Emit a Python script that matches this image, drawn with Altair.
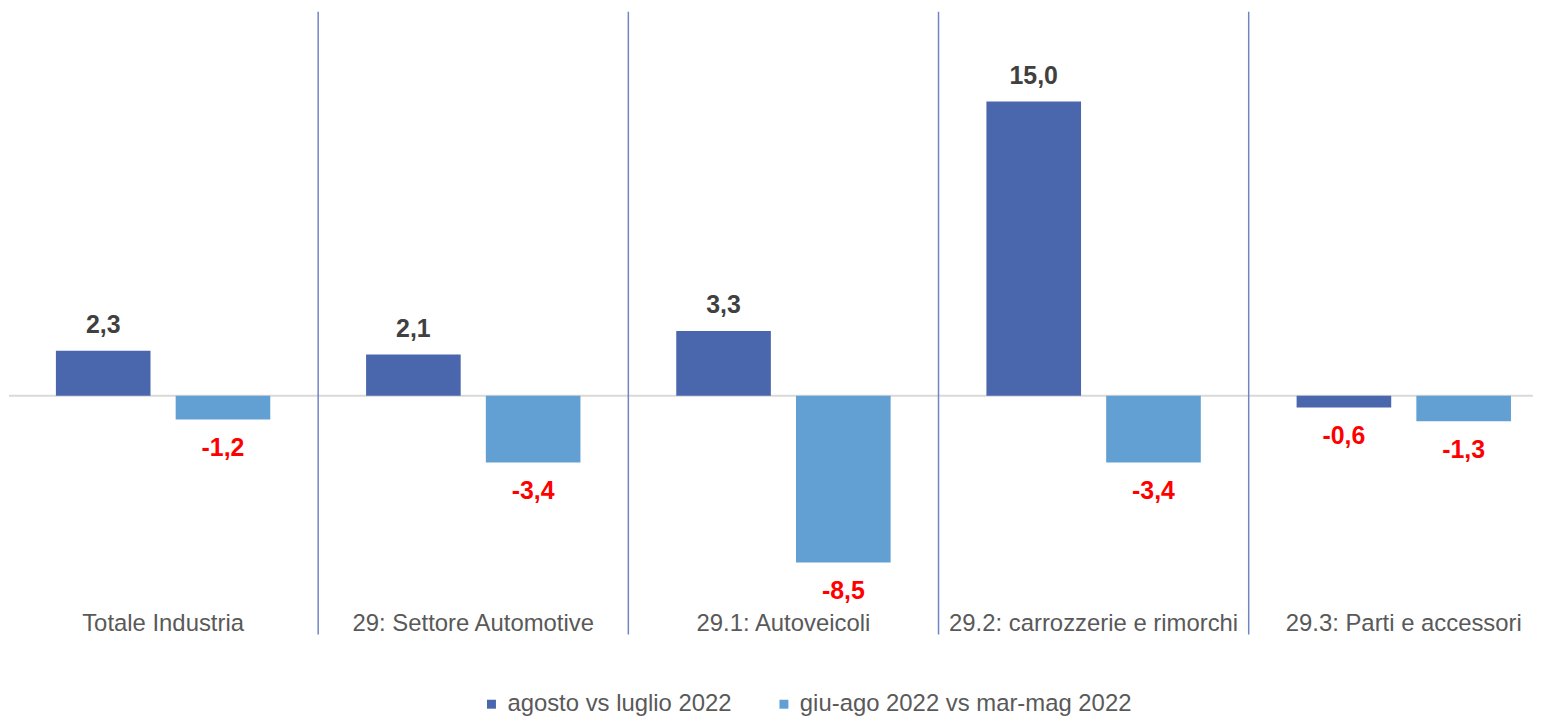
import altair as alt
import pandas as pd

categories = ["Totale Industria", "29: Settore Automotive", "29.1: Autoveicoli",
              "29.2: carrozzerie e rimorchi", "29.3: Parti e accessori"]
series = ["agosto vs luglio 2022", "giu-ago 2022 vs mar-mag 2022"]
agosto = [2.3, 2.1, 3.3, 15.0, -0.6]
giuago = [-1.2, -3.4, -8.5, -3.4, -1.3]

rows = []
for c, a, g in zip(categories, agosto, giuago):
    rows.append({"cat": c, "serie": series[0], "val": a})
    rows.append({"cat": c, "serie": series[1], "val": g})
df = pd.DataFrame(rows)
df["label"] = df["val"].map(lambda v: f"{v:.1f}".replace(".", ","))

cat_df = pd.DataFrame({"cat": categories})
sep_df = pd.DataFrame({"cat": categories[1:]})
zero_df = pd.DataFrame({"z": [0]})

FONT = "Liberation Sans"
W, H = 1532, 690

x_scale = alt.Scale(domain=categories, range=[-1, 1558], paddingInner=0, paddingOuter=0)
y_scale = alt.Scale(domain=[-15.31, 19.67], nice=False, zero=False)
xoff_scale = alt.Scale(domain=series, paddingInner=0.21, paddingOuter=0.4)
color_scale = alt.Scale(domain=series, range=["#4A66AC", "#629FD3"])

X = alt.X("cat:N", scale=x_scale, axis=None, sort=categories)
Y = alt.Y("val:Q", scale=y_scale, axis=None)
XO = alt.XOffset("serie:N", scale=xoff_scale, sort=series)

zero = alt.Chart(zero_df).mark_rule(color="#D9D9D9", strokeWidth=2).encode(
    x=alt.value(0), x2=alt.value(W), y=alt.Y("z:Q", scale=y_scale, axis=None)
)

seps = alt.Chart(sep_df).mark_rule(color="#6F86C2", strokeWidth=1.5).encode(
    x=alt.X("cat:N", scale=x_scale, axis=None, sort=categories, bandPosition=0),
    y=alt.value(2), y2=alt.value(628)
)

bars = alt.Chart(df).mark_bar().encode(
    x=X, xOffset=XO, y=Y, y2=alt.datum(0),
    color=alt.Color("serie:N", scale=color_scale, sort=series,
                    legend=alt.Legend(orient="none", legendX=473, legendY=686,
                                      direction="horizontal", title=None,
                                      symbolType="square", symbolSize=81,
                                      symbolStrokeWidth=0, labelFontSize=24,
                                      labelFont=FONT, labelColor="#595959",
                                      labelOffset=4, columnPadding=40,
                                      padding=0, labelLimit=600))
)

pos = alt.Chart(df).transform_filter("datum.val >= 0").mark_text(
    dy=-26, fontSize=25, fontWeight="bold", font=FONT, color="#404040", baseline="middle"
).encode(x=X, xOffset=XO, y=Y, text="label:N")

neg = alt.Chart(df).transform_filter("datum.val < 0").mark_text(
    dy=29, fontSize=25, fontWeight="bold", font=FONT, color="#FF0000", baseline="middle"
).encode(x=X, xOffset=XO, y=Y, text="label:N")

cats = alt.Chart(cat_df).mark_text(
    fontSize=24, font=FONT, color="#595959", baseline="middle"
).encode(x=X, y=alt.value(617), text="cat:N")

chart = alt.layer(zero, seps, bars, pos, neg, cats).properties(
    width=W, height=H, padding=0,
    autosize=alt.AutoSizeParams(type="pad")
).configure_view(stroke=None)

chart.save("out.html", embed_options={"renderer": "svg", "actions": False})
